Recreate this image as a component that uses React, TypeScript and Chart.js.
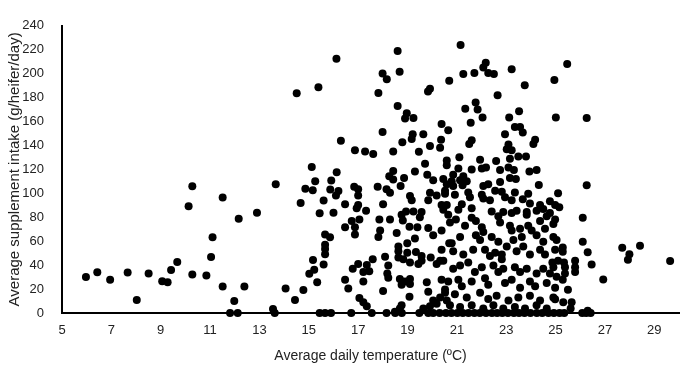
import React, { useEffect, useRef } from "react";
import { Chart, registerables } from "chart.js";

Chart.register(...registerables);

// Tick values shown on each axis
const xTicks = [5, 7, 9, 11, 13, 15, 17, 19, 21, 23, 25, 27, 29];
const yTicks = [0, 20, 40, 60, 80, 100, 120, 140, 160, 180, 200, 220, 240];

// [average daily temperature (°C), average supplement intake (g/heifer/day)]
const coolDays: [number, number][] = [
  [5.97, 30.1], [6.43, 34], [6.95, 27.7], [7.66, 33.8], [8.03, 10.9], [8.51, 33],
  [9.06, 26.6], [9.28, 25.8], [9.42, 35.9], [9.67, 42.6], [10.13, 89.2], [10.28, 105.9],
  [10.28, 32.2], [10.85, 31.4], [11.04, 46.8], [11.1, 63.3], [11.51, 96.6], [11.51, 22.1],
  [11.81, 0], [11.98, 10.1], [12.12, 0], [12.16, 78.8], [12.39, 22.1], [12.9, 83.8],
  [13.55, 3.4], [13.62, 0], [13.66, 107.5], [14.06, 20.5], [14.44, 10.9], [14.51, 183.6],
  [14.67, 92], [14.78, 19.2], [14.86, 103.8],
];

const mildDays: [number, number][] = [
  [15.02, 32.7], [15.12, 122], [15.16, 102.5], [15.17, 44.2], [15.26, 110], [15.22, 36.2],
  [15.34, 25.8], [15.44, 83.3], [15.44, 0], [15.6, 94], [15.6, 40.5], [15.66, 49],
  [15.66, 53.5], [15.66, 57], [15.66, 65.7], [15.66, 0], [15.86, 63.3], [15.9, 0],
  [15.91, 110.7], [15.87, 103.2], [16.0, 83.8], [16.1, 98.2], [16.13, 117.6], [16.2, 102],
  [15.39, 188.7], [16.12, 212.4], [16.3, 144], [16.84, 105.4], [16.47, 90.8], [16.87, 136],
  [16.94, 87.6], [16.74, 76.9], [16.47, 71.6], [16.87, 71.6], [16.87, 65.7], [16.78, 37],
  [16.47, 27.7], [16.6, 20.5], [16.72, 0],
];

const warmDays: [number, number][] = [
  [18.6, 219], [17.99, 200.2], [18.16, 195.4], [18.68, 201.5], [17.82, 183.9], [19.91, 187.4],
  [19.83, 185.2], [18.6, 173], [18.97, 166.9], [19.24, 163], [18.9, 162.6],
  [17.99, 151.2], [19.21, 149.3], [19.17, 145.3], [19.64, 149.3], [18.79, 142.7], [19.91, 139.5],
  [17.28, 134.9], [17.61, 132.8], [18.42, 134.9], [19.46, 134.7], [19.71, 124.8], [19.3, 118.2],
  [18.42, 118.7], [18.26, 114.2], [18.42, 111.5], [18.86, 112.8], [19.8, 115.5], [20.04, 111],
  [18.72, 106.2], [17.79, 105.6], [17.0, 103.5], [17.0, 98.2], [18.15, 103.5], [18.29, 100.4],
  [19.1, 97.7], [19.17, 94.2], [19.91, 100.4], [20.18, 98.2], [19.84, 94.2], [17.0, 90.2],
  [17.32, 85.4], [18.01, 90.8], [18.94, 84.9], [19.24, 84.9], [19.57, 84.4],
  [17.05, 78.2], [17.86, 78.2], [18.29, 78.2], [18.76, 82.2], [19.5, 80], [18.81, 77.4],
  [19.08, 72.1], [19.4, 71.6], [19.84, 71.1], [20.04, 64.9], [17.89, 68.9], [17.82, 63.6],
  [18.56, 66.8], [19.3, 62.3], [18.99, 58.3], [18.63, 55.6], [18.63, 51.6], [18.99, 50.3],
  [19.34, 50.9], [19.57, 47.7], [19.94, 46.3], [18.09, 47.1], [18.63, 46.3], [18.83, 45],
  [19.1, 42.3], [19.44, 41], [19.57, 43.7], [20.18, 41], [17.59, 45], [17.35, 40.2],
  [17.0, 41], [17.21, 34.3], [17.45, 34.9], [18.22, 39.7], [18.18, 33], [18.22, 29.5],
  [17.21, 26.3], [18.69, 28.5], [18.9, 26.3], [19.1, 28.5], [18.76, 23.7], [19.1, 24.2],
  [19.78, 25.8], [18.01, 18.4], [19.84, 17.8], [19.08, 13.6], [17.05, 12.5], [17.21, 9],
  [17.35, 5.6], [20.04, 10.4], [20.18, 7.7], [19.91, 5.6], [19.64, 3.8], [18.76, 6.4],
  [18.69, 3.8], [18.49, 1], [17.55, 0], [18.15, 0], [18.5, 0], [18.77, 0], [19.48, 0],
  [19.84, 0], [20.04, 0],
];

const hotDays: [number, number][] = [
  [20.38, 158], [20.65, 152.7], [20.36, 144.8], [20.32, 138.1], [20.59, 127.5], [20.45, 112],
  [20.52, 102.2], [20.38, 90.2], [20.38, 52.9], [20.69, 58.3], [20.32, 43.7], [20.38, 27.7],
  [20.52, 19.7], [20.32, 13], [20.59, 10.4], [20.69, 194],
  [21.15, 224], [22.17, 209.2], [22.07, 205.2], [22.27, 200.6], [22.5, 199.8], [21.26, 199.8],
  [21.71, 200.6], [23.22, 203.6], [23.75, 190.3], [24.95, 194.8], [22.65, 182], [21.76, 175.9],
  [21.34, 170.6], [21.84, 170], [23.52, 168.5], [22.04, 163.4], [23.12, 163.4], [25.01, 163.4],
  [21.56, 158.9], [23.35, 155.4], [23.56, 155.4], [23.67, 150.9], [22.95, 149.3], [21.6, 144.3],
  [21.5, 141.3], [24.17, 144.8], [24.1, 141.3], [23.09, 140.8], [23.02, 136.8], [23.22, 136],
  [21.1, 130.1], [21.94, 128], [22.59, 127], [23.15, 128.8], [23.49, 130.7], [23.8, 130.7],
  [20.59, 123.5], [21.06, 120.8], [21.6, 120], [22.01, 120.8], [22.18, 121.6], [22.75, 119.5],
  [23.09, 121.6], [23.31, 119.5], [23.94, 118.2], [24.23, 119.5], [20.85, 115.5], [21.26, 114.2],
  [21.13, 111], [21.4, 110.2], [20.79, 110.2], [20.59, 107.5], [20.85, 106.2], [21.23, 106.7],
  [22.27, 107.5], [22.75, 109.4], [23.15, 112.8], [23.39, 112], [24.32, 107], [22.07, 106.2],
  [22.55, 102.2], [22.82, 101.4], [23.35, 100.8], [23.89, 99.6], [20.52, 99.6], [20.92, 98.8],
  [21.46, 100.8], [21.53, 96.8], [22.01, 98.8], [22.07, 95.6], [22.34, 94.2], [22.95, 96.8],
  [23.22, 94.2], [23.67, 95], [23.96, 91.6], [24.37, 90.2], [24.77, 93.4], [24.98, 90.2],
  [20.59, 90.2], [21.2, 90.8], [21.6, 87.6], [22.41, 84.9], [22.88, 84.4], [23.42, 85.4],
  [23.83, 84.4], [24.23, 85.4], [24.5, 87], [24.77, 83.6],
  [20.45, 86.2], [20.65, 82.2], [21.06, 86.2], [21.6, 79.6], [22.68, 80.9], [23.22, 83.6],
  [23.83, 82.2], [24.64, 80.9], [24.98, 78.2], [20.72, 75.6], [20.96, 78.2], [21.33, 72.9],
  [21.77, 76.9], [22.01, 71.6], [22.75, 75.6], [23.15, 72.9], [23.22, 68.9], [23.56, 70.3],
  [23.89, 72.9], [24.03, 68.9], [24.37, 76.9], [24.57, 70.3], [24.91, 74.3], [20.38, 68.9],
  [21.13, 63.6], [21.77, 64.9], [22.07, 67.6], [21.94, 60.9], [22.41, 63.6], [22.68, 59.6],
  [23.29, 60.9], [23.63, 63.6], [24.23, 64.9], [24.5, 59.6], [24.91, 63.6], [20.79, 58.3],
  [20.85, 51.6], [21.26, 48.9], [21.66, 52.9], [22.14, 52.9], [22.34, 47.7], [22.55, 50.3],
  [22.82, 48.9], [22.82, 45], [23.02, 55.6], [23.42, 51.6], [23.69, 55.6], [23.96, 48.9],
  [24.37, 52.9], [24.57, 48.9], [24.98, 52.9], [25.1, 43.7], [20.45, 43.7], [20.85, 37],
  [21.13, 39.7], [21.46, 42.3], [21.73, 34.3], [22.01, 38.3], [22.48, 39.7], [22.68, 34.3],
  [22.88, 37], [23.35, 38.3], [23.56, 34.3], [23.83, 37], [24.23, 33], [24.5, 37],
  [24.77, 33], [20.65, 26.3], [21.06, 27.7], [21.2, 22.4], [21.6, 26.3], [22.14, 29],
  [22.27, 23.7], [22.95, 25], [23.22, 27.7], [23.56, 21], [23.96, 26.3], [24.17, 22.4],
  [24.64, 25], [24.98, 21], [20.52, 17], [20.92, 15.7], [21.4, 13], [21.94, 17],
  [22.27, 11.7], [22.61, 14.4], [23.09, 10.4], [23.49, 13], [23.96, 14.4], [24.37, 10.4],
  [24.91, 13], [20.72, 6.4], [21.13, 5], [21.6, 6.4], [22.07, 3.8], [22.48, 6.4],
  [22.88, 3.8], [23.35, 5], [23.76, 3.8], [24.23, 6.4], [24.64, 3.8],
  [20.3, 0], [20.56, 0], [20.78, 0], [21.02, 0], [21.24, 0], [21.47, 0], [21.71, 0],
  [21.93, 0], [22.18, 0], [22.42, 0], [22.63, 0], [22.84, 0], [23.07, 0], [23.31, 0],
  [23.52, 0], [23.74, 0], [23.98, 0], [24.24, 0], [24.46, 0], [24.71, 0], [24.93, 0], [25.16, 0],
];

const lateDays: [number, number][] = [
  [25.47, 208.1], [26.26, 162.9], [26.26, 106.7], [25.1, 100], [25.15, 88.4], [26.1, 79.6],
  [25.04, 61], [26.1, 59.6], [25.29, 54.8], [25.29, 51.1], [26.3, 50.8], [27.7, 54.5],
  [28.42, 56.1], [27.99, 49], [27.93, 44.5], [29.64, 43.4], [26.46, 40.5], [26.93, 28],
  [24.87, 42.3], [25.34, 42.3], [25.79, 43.7], [25.79, 38.3], [25.38, 38.3], [25.38, 33],
  [24.91, 38.3], [25.79, 34.3], [25.04, 30.3], [25.29, 27.7], [25.5, 19.4], [24.98, 11.4],
  [25.31, 9], [25.65, 9], [25.61, 3.7], [26.3, 1.8], [26.08, 0], [25.35, 0], [26.24, 0], [26.42, 0],
];

const groups = [coolDays, mildDays, warmDays, hotDays, lateDays];

const FONT = "'Liberation Sans', Arial, sans-serif";
const TEXT = "#222222";

export default function App() {
  const canvasRef = useRef<HTMLCanvasElement | null>(null);

  useEffect(() => {
    const canvas = canvasRef.current;
    if (!canvas) return;
    const chart = new Chart(canvas, {
      type: "scatter",
      data: {
        datasets: groups.map((g) => ({
          data: g.map(([x, y]) => ({ x, y })),
          backgroundColor: "#000000",
          borderColor: "#000000",
          borderWidth: 0,
          pointRadius: 4,
          pointHoverRadius: 4,
          clip: false as any,
        })),
      },
      options: {
        responsive: false,
        animation: false,
        devicePixelRatio: 1,
        layout: { padding: { left: 0, right: 6, top: 12, bottom: 0 } },
        plugins: { legend: { display: false }, tooltip: { enabled: false } },
        scales: {
          x: {
            type: "linear",
            min: 5,
            max: 30,
            afterBuildTicks: (s: any) => {
              s.ticks = xTicks.map((v) => ({ value: v }));
            },
            afterFit: (s: any) => {
              s.height = 56;
            },
            grid: { display: false, drawTicks: false },
            border: { display: true, color: "#000000", width: 2 },
            ticks: { padding: 10, color: TEXT, font: { family: FONT, size: 13 } },
            title: {
              display: true,
              text: "Average daily temperature (ºC)",
              color: TEXT,
              font: { family: FONT, size: 14 },
              padding: { top: 0, bottom: 4 },
            },
          },
          y: {
            type: "linear",
            min: 0,
            max: 240,
            afterBuildTicks: (s: any) => {
              s.ticks = yTicks.map((v) => ({ value: v }));
            },
            afterFit: (s: any) => {
              s.width = 62;
            },
            grid: { display: false, drawTicks: false },
            border: { display: true, color: "#000000", width: 2 },
            ticks: { padding: 18, color: TEXT, font: { family: FONT, size: 13 } },
            title: {
              display: true,
              text: "Average supplement intake (g/heifer/day)",
              color: TEXT,
              font: { family: FONT, size: 15 },
              padding: { top: 6, bottom: 0 },
            },
          },
        },
      },
    });
    return () => chart.destroy();
  }, []);

  return (
    <div style={{ position: "fixed", left: 0, top: 0, width: 685, height: 369, background: "#ffffff" }}>
      <canvas ref={canvasRef} width={685} height={369} style={{ width: 685, height: 369 }} />
    </div>
  );
}
